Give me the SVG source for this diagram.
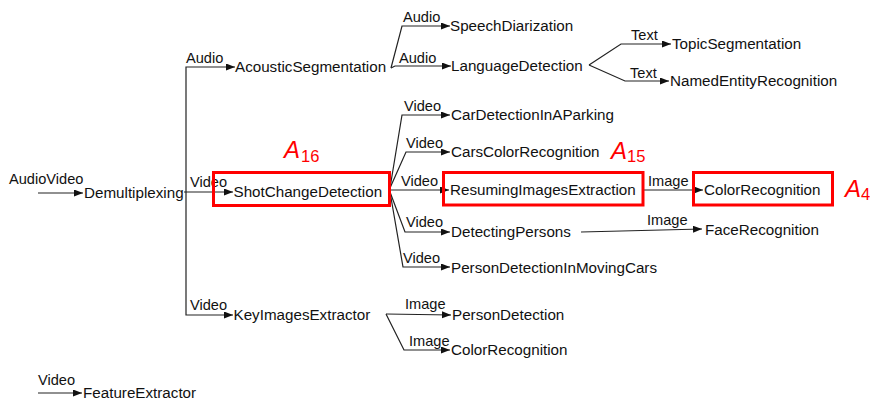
<svg xmlns="http://www.w3.org/2000/svg" width="870" height="400" viewBox="0 0 870 400">
<defs>
<marker id="arr" markerWidth="10" markerHeight="8" refX="9" refY="3.5" orient="auto" markerUnits="userSpaceOnUse"><path d="M0,0 L9,3.5 L0,7 z" fill="#111"/></marker>
<style>
.n{font-family:"Liberation Sans",Arial,sans-serif;font-size:15.2px;fill:#111}
.l{font-family:"Liberation Sans",Arial,sans-serif;font-size:14.6px;fill:#111}
.e{fill:none;stroke:#222;stroke-width:1.2}
.a{marker-end:url(#arr)}
.box{fill:none;stroke:#ff0000;stroke-width:3}
.A{font-family:"Liberation Sans",Arial,sans-serif;font-style:italic;font-size:24px;fill:#ff0000}
.s{font-family:"Liberation Sans",Arial,sans-serif;font-size:16.5px;fill:#ff0000}
</style>
</defs>
<rect width="870" height="400" fill="#fff"/>
<g id="connectors">
<path class="e a" d="M38,193 H83"/>
<path class="e a" d="M184,192 H233"/>
<path class="e a" d="M186,192 V67 H235"/>
<path class="e a" d="M186,192 V315 H233"/>
<path class="e a" d="M391,68 L402,26 H450"/>
<path class="e a" d="M391,68 L395,66 H451"/>
<path class="e a" d="M589,65 L621,44 H671"/>
<path class="e a" d="M589,65 L625,81 H669"/>
<path class="e a" d="M390,188 L402,115 H450"/>
<path class="e a" d="M390,188 L406,152 H450"/>
<path class="e a" d="M390,190 H449"/>
<path class="e a" d="M390,192 L405,232 H450"/>
<path class="e a" d="M390,192 L403,267 H450"/>
<path class="e a" d="M643,190 H703"/>
<path class="e a" d="M581,232 L702,229"/>
<path class="e a" d="M386,314 L451,315"/>
<path class="e a" d="M386,314 L404,350 H450"/>
<path class="e a" d="M38,393 H82"/>
<text class="l" x="9" y="184">AudioVideo</text>
<text class="l" x="186" y="63">Audio</text>
<text class="l" x="190" y="187">Video</text>
<text class="l" x="190" y="310">Video</text>
<text class="l" x="403" y="22">Audio</text>
<text class="l" x="399" y="63">Audio</text>
<text class="l" x="631" y="40">Text</text>
<text class="l" x="630" y="78">Text</text>
<text class="l" x="404" y="111">Video</text>
<text class="l" x="406" y="148">Video</text>
<text class="l" x="401" y="186">Video</text>
<text class="l" x="406" y="227">Video</text>
<text class="l" x="403" y="263">Video</text>
<text class="l" x="648" y="186">Image</text>
<text class="l" x="647" y="225">Image</text>
<text class="l" x="405" y="309">Image</text>
<text class="l" x="409" y="346">Image</text>
<text class="l" x="38" y="385">Video</text>
</g>
<g id="n-demultiplexing"><text class="n" x="84" y="198">Demultiplexing</text></g>
<g id="n-acousticsegmentation"><text class="n" x="235" y="72">AcousticSegmentation</text></g>
<g id="n-shotchangedetection"><rect class="box" x="213.5" y="172.5" width="176" height="33"/><text class="n" x="233.5" y="197">ShotChangeDetection</text><text class="A" x="284" y="158">A</text><text class="s" x="301" y="162">16</text></g>
<g id="n-keyimagesextractor"><text class="n" x="233.5" y="320">KeyImagesExtractor</text></g>
<g id="n-speechdiarization"><text class="n" x="450" y="31">SpeechDiarization</text></g>
<g id="n-languagedetection"><text class="n" x="451" y="71">LanguageDetection</text></g>
<g id="n-topicsegmentation"><text class="n" x="672" y="49">TopicSegmentation</text></g>
<g id="n-namedentityrecognition"><text class="n" x="670" y="86">NamedEntityRecognition</text></g>
<g id="n-cardetectioninaparking"><text class="n" x="451" y="120">CarDetectionInAParking</text></g>
<g id="n-carscolorrecognition"><text class="n" x="451" y="157">CarsColorRecognition</text></g>
<g id="n-resumingimagesextraction"><rect class="box" x="443.5" y="172.5" width="199.5" height="32.5"/><text class="n" x="450" y="195">ResumingImagesExtraction</text><text class="A" x="611" y="159">A</text><text class="s" x="627" y="162">15</text></g>
<g id="n-colorrecognition-1"><rect class="box" x="693.5" y="172.5" width="139" height="32.5"/><text class="n" x="704" y="195">ColorRecognition</text><text class="A" x="845" y="196.5">A</text><text class="s" x="861" y="200">4</text></g>
<g id="n-detectingpersons"><text class="n" x="451" y="237">DetectingPersons</text></g>
<g id="n-facerecognition"><text class="n" x="705" y="235">FaceRecognition</text></g>
<g id="n-persondetectioninmovingcars"><text class="n" x="451" y="273">PersonDetectionInMovingCars</text></g>
<g id="n-persondetection"><text class="n" x="452" y="320">PersonDetection</text></g>
<g id="n-colorrecognition-2"><text class="n" x="451" y="355">ColorRecognition</text></g>
<g id="n-featureextractor"><text class="n" x="83" y="398">FeatureExtractor</text></g>
</svg>
